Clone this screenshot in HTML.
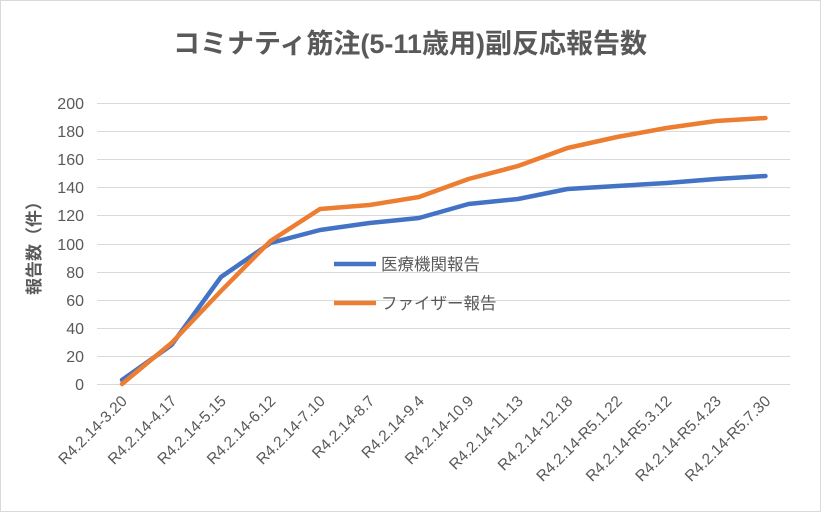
<!DOCTYPE html>
<html><head><meta charset="utf-8"><style>
body{margin:0;background:#fff}
svg{display:block}
text{font-family:"Liberation Sans","Noto Sans CJK JP",sans-serif;fill:#595959}
</style></head><body>
<svg width="821" height="512" viewBox="0 0 821 512">
<rect x="0.5" y="0.5" width="820" height="511" fill="#fff" stroke="#d9d9d9"/>
<text x="410" y="53" font-size="27" font-weight="bold" text-anchor="middle">コミナティ筋注(5-11歳用)副反応報告数</text>
<g stroke="#d9d9d9" stroke-width="1">
<line x1="97" x2="790" y1="384.5" y2="384.5"/>
<line x1="97" x2="790" y1="356.5" y2="356.5"/>
<line x1="97" x2="790" y1="328.5" y2="328.5"/>
<line x1="97" x2="790" y1="300.5" y2="300.5"/>
<line x1="97" x2="790" y1="272.5" y2="272.5"/>
<line x1="97" x2="790" y1="244.5" y2="244.5"/>
<line x1="97" x2="790" y1="215.5" y2="215.5"/>
<line x1="97" x2="790" y1="187.5" y2="187.5"/>
<line x1="97" x2="790" y1="159.5" y2="159.5"/>
<line x1="97" x2="790" y1="131.5" y2="131.5"/>
<line x1="97" x2="790" y1="103.5" y2="103.5"/>
</g>
<g font-size="16" text-anchor="end">
<text x="84" y="390">0</text><text x="84" y="362">20</text><text x="84" y="334">40</text>
<text x="84" y="306">60</text><text x="84" y="278">80</text><text x="84" y="250">100</text>
<text x="84" y="221">120</text><text x="84" y="193">140</text><text x="84" y="165">160</text>
<text x="84" y="137">180</text><text x="84" y="109">200</text>
</g>
<text transform="translate(40,244) rotate(-90)" font-size="17" font-weight="bold" text-anchor="middle">報告数（件）</text>
<g font-size="15.5" text-anchor="end">
<text transform="translate(128,402) rotate(-45)">R4.2.14-3.20</text>
<text transform="translate(177.5,402) rotate(-45)">R4.2.14-4.17</text>
<text transform="translate(227,402) rotate(-45)">R4.2.14-5.15</text>
<text transform="translate(276.5,402) rotate(-45)">R4.2.14-6.12</text>
<text transform="translate(326,402) rotate(-45)">R4.2.14-7.10</text>
<text transform="translate(375.5,402) rotate(-45)">R4.2.14-8.7</text>
<text transform="translate(425,402) rotate(-45)">R4.2.14-9.4</text>
<text transform="translate(474.5,402) rotate(-45)">R4.2.14-10.9</text>
<text transform="translate(524,402) rotate(-45)">R4.2.14-11.13</text>
<text transform="translate(573.5,402) rotate(-45)">R4.2.14-12.18</text>
<text transform="translate(623,402) rotate(-45)">R4.2.14-R5.1.22</text>
<text transform="translate(672.5,402) rotate(-45)">R4.2.14-R5.3.12</text>
<text transform="translate(722,402) rotate(-45)">R4.2.14-R5.4.23</text>
<text transform="translate(771.5,402) rotate(-45)">R4.2.14-R5.7.30</text>
</g>
<polyline fill="none" stroke="#4472c4" stroke-width="4.5" stroke-linejoin="round" stroke-linecap="round"
points="122,380 171.5,345 221,277 270.5,243 320,230 369.5,223 419,218 468.5,204 518,199 567.5,189 617,186 666.5,183 716,179 765.5,176"/>
<polyline fill="none" stroke="#ed7d31" stroke-width="4.5" stroke-linejoin="round" stroke-linecap="round"
points="122,384 171.5,343 221,291 270.5,241 320,209 369.5,205 419,197 468.5,179 518,166 567.5,148 617,137 666.5,128 716,121 765.5,118"/>
<line x1="334" x2="376" y1="264" y2="264" stroke="#4472c4" stroke-width="4.5"/>
<text x="381" y="270" font-size="16.5">医療機関報告</text>
<line x1="334" x2="376" y1="303" y2="303" stroke="#ed7d31" stroke-width="4.5"/>
<text x="381" y="309" font-size="16.5">ファイザー報告</text>
</svg>
</body></html>
